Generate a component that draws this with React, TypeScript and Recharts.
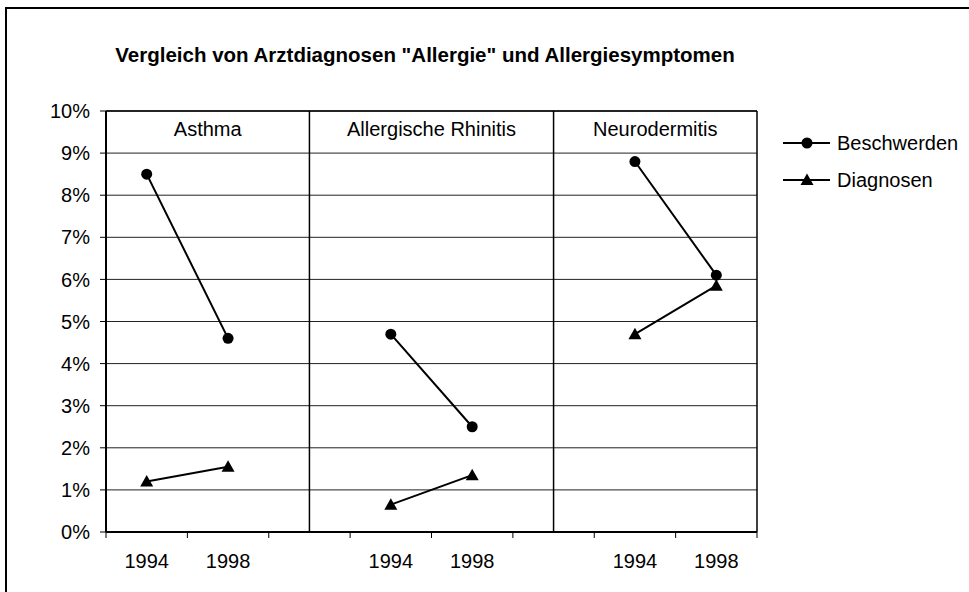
import React from "react";
import {
  LineChart,
  Line,
  XAxis,
  YAxis,
  CartesianGrid,
  ReferenceLine,
  ReferenceArea,
  Legend,
} from "recharts";

// one entry per category slot; empty slots separate the three panels
const years = ["1994", "1998", "", "1994", "1998", "", "1994", "1998"];
const beschwerden = [8.5, 4.6, null, 4.7, 2.5, null, 8.8, 6.1];
const diagnosen = [1.2, 1.55, null, 0.65, 1.35, null, 4.7, 5.85];
const panels = ["Asthma", "Allergische Rhinitis", "Neurodermitis"];
const panelBounds = [0, 2.5, 5.5, 8];
const yTicks = [0, 1, 2, 3, 4, 5, 6, 7, 8, 9, 10];
const xTicks = [0, 0.5, 1, 1.5, 2, 2.5, 3, 3.5, 4, 4.5, 5, 5.5, 6, 6.5, 7, 7.5, 8];

const data = years.map((year, i) => ({
  x: i + 0.5,
  year,
  beschwerden: beschwerden[i],
  diagnosen: diagnosen[i],
}));

const FONT = "'Liberation Sans', Arial, sans-serif";

function XTick(props: any) {
  const { x, y, payload } = props;
  const v = payload.value;
  if (Number.isInteger(v)) {
    return <line x1={x} x2={x} y1={y - 6} y2={y} stroke="#000" strokeWidth={1} />;
  }
  return (
    <text x={x} y={y + 30} textAnchor="middle" fontSize={20} fill="#000">
      {years[Math.floor(v)]}
    </text>
  );
}

function triangle(cx: number, cy: number) {
  return `${cx},${cy - 6.5} ${cx - 6.5},${cy + 5} ${cx + 6.5},${cy + 5}`;
}

function TriangleDot(props: any) {
  const { cx, cy, index } = props;
  if (cx == null || cy == null || isNaN(cy)) return <g key={index} />;
  return <polygon key={index} points={triangle(cx, cy)} fill="#000" />;
}

function CircleDot(props: any) {
  const { cx, cy, index } = props;
  if (cx == null || cy == null || isNaN(cy)) return <g key={index} />;
  return <circle key={index} cx={cx} cy={cy} r={5.5} fill="#000" />;
}

function LegendContent(props: any) {
  const payload = props.payload || [];
  return (
    <svg width={189} height={72} style={{ fontFamily: FONT }}>
      {payload.map((entry: any, i: number) => {
        const cy = 15 + i * 37;
        return (
          <g key={entry.value}>
            <line x1={3} x2={50} y1={cy} y2={cy} stroke="#000" strokeWidth={2} />
            {entry.dataKey === "diagnosen" ? (
              <polygon points={triangle(27, cy)} fill="#000" />
            ) : (
              <circle cx={27} cy={cy} r={5.5} fill="#000" />
            )}
            <text x={57} y={cy + 7} fontSize={20} fill="#000">
              {entry.value}
            </text>
          </g>
        );
      })}
    </svg>
  );
}

export default function App() {
  return (
    <div
      style={{
        position: "relative",
        width: 969,
        height: 592,
        overflow: "hidden",
        background: "#fff",
        fontFamily: FONT,
      }}
    >
      <style>{"body{margin:0}"}</style>
      <LineChart
        width={969}
        height={592}
        data={data}
        margin={{ top: 111, right: 212, left: 0, bottom: 0 }}
      >
        <CartesianGrid vertical={false} stroke="#222" strokeWidth={1} />
        <XAxis
          dataKey="x"
          type="number"
          domain={[0, 8]}
          ticks={xTicks}
          interval={0}
          height={60}
          tickSize={6}
          tickMargin={0}
          tickLine={false}
          tick={<XTick />}
          axisLine={{ stroke: "#000", strokeWidth: 2 }}
        />
        <YAxis
          type="number"
          domain={[0, 10]}
          ticks={yTicks}
          interval={0}
          width={106}
          tickSize={6}
          tickMargin={10}
          tickFormatter={(v) => `${v}%`}
          tick={{ fill: "#000", fontSize: 20 }}
          tickLine={{ stroke: "#000" }}
          axisLine={{ stroke: "#000", strokeWidth: 2 }}
        />
        <ReferenceLine y={10} stroke="#000" strokeWidth={1.5} />
        <ReferenceLine x={8} stroke="#000" strokeWidth={1.5} />
        {panelBounds.slice(1, -1).map((b) => (
          <ReferenceLine key={b} x={b} stroke="#000" strokeWidth={1.5} />
        ))}
        {panels.map((name, i) => (
          <ReferenceArea
            key={name}
            x1={panelBounds[i]}
            x2={panelBounds[i + 1]}
            y1={9}
            y2={10}
            fill="none"
            fillOpacity={0}
            stroke="none"
            label={{
              value: name,
              position: "insideTop",
              offset: 11,
              fill: "#000",
              fontSize: 20,
            }}
          />
        ))}
        <Legend
          layout="vertical"
          align="center"
          verticalAlign="middle"
          content={<LegendContent />}
          wrapperStyle={{ top: 128, left: 780, width: 189, height: 72 }}
        />
        <Line
          name="Beschwerden"
          dataKey="beschwerden"
          stroke="#000"
          strokeWidth={2}
          dot={(p: any) => <CircleDot key={p.index} {...p} />}
          activeDot={false}
          isAnimationActive={false}
        />
        <Line
          name="Diagnosen"
          dataKey="diagnosen"
          stroke="#000"
          strokeWidth={2}
          dot={(p: any) => <TriangleDot key={p.index} {...p} />}
          activeDot={false}
          isAnimationActive={false}
        />
      </LineChart>
      <div
        style={{
          position: "absolute",
          left: 5,
          top: 7,
          width: 980,
          height: 600,
          borderLeft: "2.5px solid #000",
          borderTop: "2.5px solid #000",
          pointerEvents: "none",
        }}
      />
      <svg
        width={969}
        height={592}
        style={{ position: "absolute", left: 0, top: 0, pointerEvents: "none" }}
      >
        <text
          x={425}
          y={62}
          textAnchor="middle"
          fontSize={20.5}
          fontWeight="bold"
          fill="#000"
        >
          Vergleich von Arztdiagnosen "Allergie" und Allergiesymptomen
        </text>
      </svg>
    </div>
  );
}
